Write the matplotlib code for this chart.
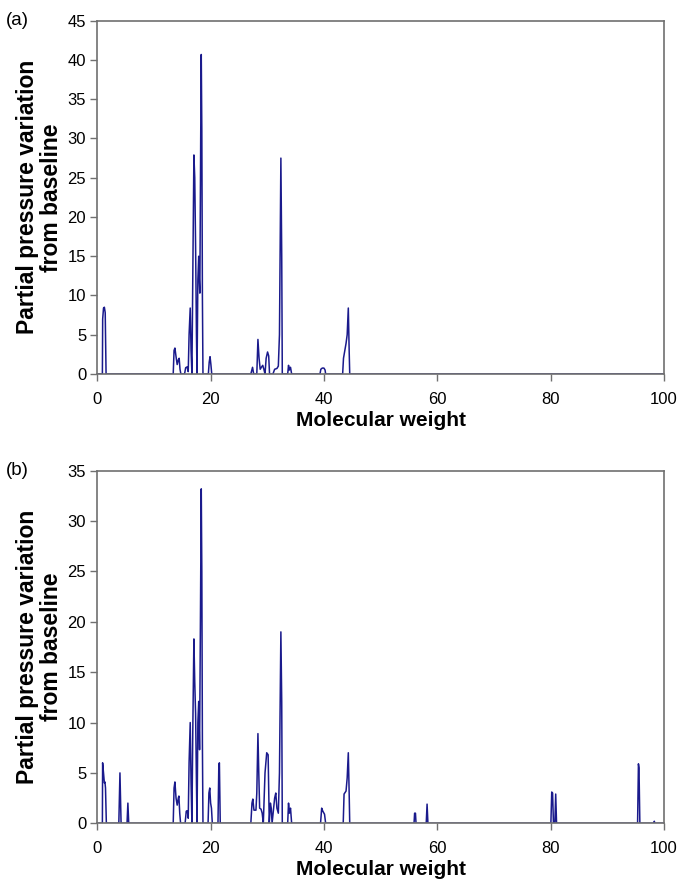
import matplotlib.pyplot as plt

plt.rcParams['font.family'] = ['Liberation Sans', 'DejaVu Sans']

# panel (a) trace: molecular weight vs partial pressure change
mass_a = [0, 0.9, 0.95, 1.1, 1.25, 1.4, 1.55,
          13.4, 13.55, 13.7, 13.9, 14.1, 14.3, 14.45, 14.6, 14.75,
          15.4, 15.6, 15.85, 16.05, 16.2, 16.4, 16.55, 16.7, 16.85, 17.05, 17.2, 17.35, 17.5, 17.6,
          17.75, 17.9, 18.0, 18.1, 18.25, 18.35, 18.45, 18.55, 18.65,
          19.6, 19.75, 19.9, 20.05, 20.2,
          27.1, 27.4, 27.6, 28.15, 28.35, 28.55, 28.75, 29.0, 29.2, 29.4, 29.6, 29.8, 30.05, 30.25, 30.4,
          31.0, 31.3, 31.7, 31.95, 32.15, 32.4, 32.55, 32.65,
          33.6, 33.75, 33.9, 34.1, 34.3,
          39.3, 39.45, 39.7, 40.0, 40.2, 40.3,
          43.3, 43.45, 43.9, 44.1, 44.3, 44.45, 44.55,
          100]
press_a = [0, 0, 7.0, 8.4, 8.5, 7.8, 0,
           0, 3.0, 3.3, 2.2, 1.2, 1.8, 2.0, 0.6, 0,
           0, 0.8, 0.9, 0.3, 5.0, 8.4, 3.0, 0, 12.0, 27.9, 25.0, 16.3, 5.0, 0,
           12.0, 15.0, 12.0, 10.3, 30.0, 40.7, 31.0, 10.0, 0,
           0, 1.5, 2.2, 1.2, 0,
           0, 0.85, 0, 0, 4.4, 2.0, 0.6, 0.9, 1.1, 0.6, 0, 2.0, 2.8, 2.3, 0,
           0, 0.6, 0.7, 1.0, 5.0, 27.5, 15.0, 0,
           0, 1.1, 0.5, 0.85, 0,
           0, 0.6, 0.75, 0.75, 0.5, 0,
           0, 2.0, 3.9, 5.0, 8.4, 3.0, 0,
           0]

# panel (b) trace
mass_b = [0, 0.9, 0.94, 1.1, 1.25, 1.35, 1.45, 1.6,
          3.8, 4.0, 4.2,
          5.25, 5.4, 5.55,
          13.4, 13.55, 13.7, 13.9, 14.1, 14.3, 14.4, 14.55, 14.7,
          15.5, 15.7, 15.9, 16.05, 16.2, 16.4, 16.55, 16.7, 16.85, 17.05, 17.2, 17.35, 17.5, 17.6,
          17.75, 17.9, 18.0, 18.05, 18.2, 18.35, 18.45, 18.55, 18.65,
          19.55, 19.7, 19.85, 20.0, 20.15, 20.3,
          21.3, 21.45, 21.55, 21.7,
          27.1, 27.3, 27.45, 27.65, 28.0, 28.15, 28.35, 28.5, 28.65, 28.9, 29.1, 29.3,
          29.6, 29.9, 30.15, 30.35, 30.55, 30.7, 30.85,
          31.3, 31.5, 31.7, 31.95, 32.15, 32.4, 32.55, 32.65,
          33.6, 33.75, 33.9, 34.1, 34.3,
          39.4, 39.6, 39.8, 40.1, 40.3,
          43.4, 43.55, 43.9, 44.1, 44.3, 44.45, 44.55,
          55.9, 56.0, 56.15, 56.25,
          58.05, 58.2, 58.35,
          80.05, 80.2, 80.35, 80.5, 80.75, 80.9, 81.05,
          95.35, 95.5, 95.6, 95.75,
          98.2, 98.3, 98.4, 100]
press_b = [0, 0, 6.0, 5.0, 4.0, 4.1, 3.5, 0,
           0, 5.0, 0,
           0, 2.0, 0,
           0, 3.5, 4.1, 2.5, 1.8, 2.5, 2.7, 1.0, 0,
           0, 1.2, 1.25, 0.5, 6.0, 10.0, 4.0, 0, 9.0, 18.3, 14.0, 10.9, 4.0, 0,
           10.0, 12.1, 9.0, 7.3, 20.0, 33.2, 25.0, 8.0, 0,
           0, 3.0, 3.5, 2.0, 1.5, 0,
           0, 5.8, 6.0, 0,
           0, 2.0, 2.4, 1.3, 1.3, 3.0, 8.9, 5.0, 1.5, 1.4, 1.0, 0,
           5.0, 7.0, 6.8, 0, 2.0, 1.5, 0,
           2.5, 3.0, 1.5, 1.0, 5.0, 19.0, 12.0, 0,
           0, 2.0, 1.0, 1.5, 0,
           0, 1.5, 1.2, 0.9, 0,
           0, 2.9, 3.2, 4.5, 7.0, 3.0, 0,
           0, 1.0, 1.0, 0,
           0, 1.9, 0,
           0, 3.1, 3.0, 0, 0, 2.9, 0,
           0, 5.9, 5.5, 0,
           0, 0.2, 0, 0]

panels = [("(a)", mass_a, press_a, 45), ("(b)", mass_b, press_b, 35)]

fig = plt.figure(figsize=(6.77, 8.82), dpi=100)
boxes = [[0.1437, 0.576, 0.837, 0.4005], [0.1437, 0.0666, 0.837, 0.3997]]

for (tag, x, y, ymax), box in zip(panels, boxes):
    ax = fig.add_axes(box)
    ax.plot(x, y, color="#1a1a8c", lw=1.1)
    ax.set_xlim(0, 100)
    ax.set_ylim(0, ymax)
    ax.set_xticks(range(0, 101, 20))
    ax.set_yticks(range(0, ymax + 1, 5))
    for s in ax.spines.values():
        s.set_color("#707070")
        s.set_linewidth(1.2)
    ax.tick_params(direction="out", length=5, width=1.0, color="#707070",
                   labelsize=12)
    ax.tick_params(axis="x", pad=8)
    ax.tick_params(axis="y", pad=3)
    ax.set_xlabel("Molecular weight", fontsize=15, fontweight="bold", labelpad=3)
    ax.set_ylabel("Partial pressure variation\nfrom baseline", fontsize=16.5,
                  fontweight="bold", labelpad=3, linespacing=1.1)
    top = box[1] + box[3]
    fig.text(0.008, top, tag, fontsize=13.5, va="center", ha="left")

fig.savefig("out.png", dpi=100)
